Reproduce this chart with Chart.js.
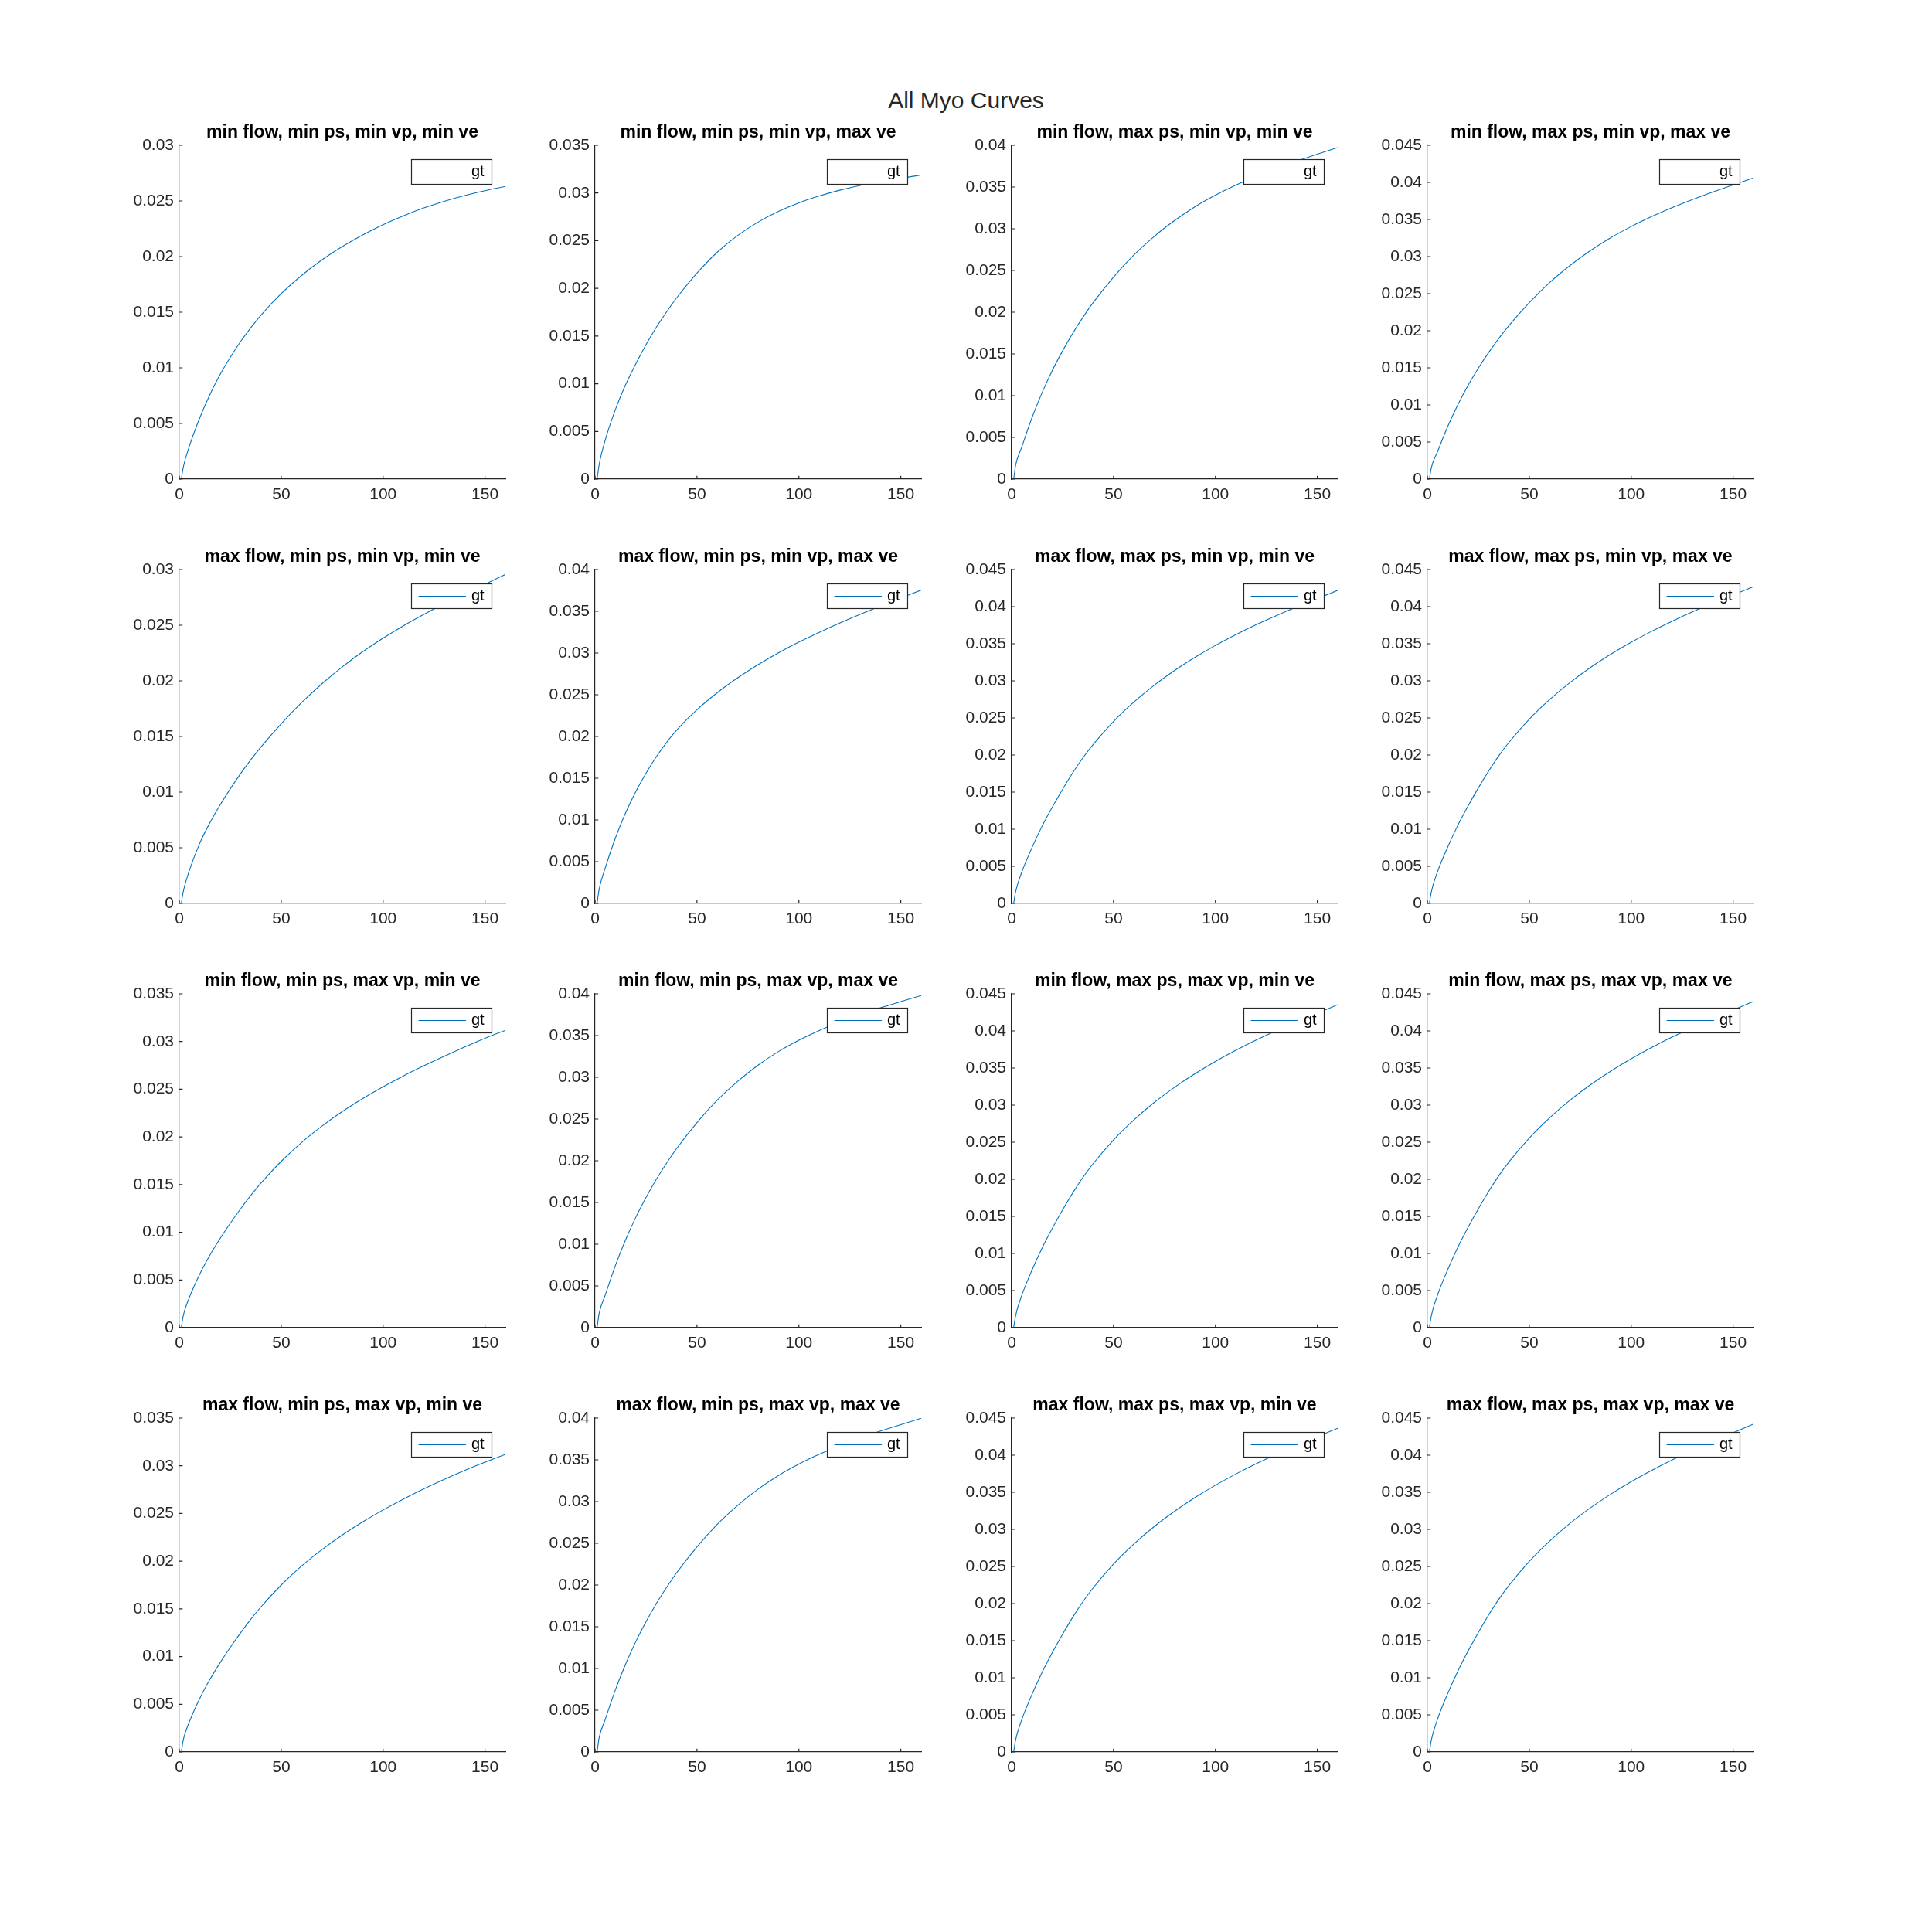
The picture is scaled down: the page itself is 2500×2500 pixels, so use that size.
<!DOCTYPE html>
<html>
<head>
<meta charset="utf-8">
<script src="https://cdn.jsdelivr.net/npm/chart.js@4.4.1/dist/chart.umd.min.js"></script>
<style>
html, body { margin: 0; padding: 0; background: #ffffff; }
body { width: 2500px; height: 2500px; position: relative; overflow: hidden; }
#suptitle { position: absolute; left: 0; top: 115px; width: 2500px; text-align: center;
  font: 30px/30px "Liberation Sans", Arial, Helvetica, sans-serif; color: #262626; white-space: nowrap; }
canvas { position: absolute; }
</style>
</head>
<body>
<div id="suptitle">All Myo Curves</div>
<script>
// ---------------- data ----------------
const timePoints = [1, 2, 5, 10, 15, 20, 25, 30, 35, 40, 50, 60, 70, 80, 90, 100, 110, 120, 130, 140, 150, 160];

const curve_r1c1 = [0, 0.0011, 0.00299, 0.00549, 0.00759, 0.00939, 0.01094, 0.01234, 0.01359, 0.01472, 0.01667, 0.0183, 0.0197, 0.0209, 0.02195, 0.02287, 0.02367, 0.02437, 0.02497, 0.02549, 0.02592, 0.0263];
const curve_r1c2 = [0, 0.0015, 0.0041, 0.0073, 0.0099, 0.0121, 0.0141, 0.0159, 0.0175, 0.0190, 0.0216, 0.0238, 0.02555, 0.02695, 0.02807, 0.02897, 0.02969, 0.03029, 0.03079, 0.03119, 0.03155, 0.03188];
const curve_r1c3 = [0, 0.0017, 0.00386, 0.00736, 0.01038, 0.01303, 0.01536, 0.01748, 0.01939, 0.02114, 0.02421, 0.02686, 0.02909, 0.03099, 0.03264, 0.03402, 0.03522, 0.03627, 0.03722, 0.0381, 0.03893, 0.03973];
const curve_r1c4 = [0, 0.0016, 0.0037, 0.0071, 0.01005, 0.01265, 0.01495, 0.01705, 0.01895, 0.0207, 0.0238, 0.0265, 0.0288, 0.0308, 0.03255, 0.03405, 0.03538, 0.03658, 0.03768, 0.0387, 0.03967, 0.0406];

const curve_r2c1 = [0, 0.0011, 0.00299, 0.00539, 0.00724, 0.00884, 0.01029, 0.01164, 0.01289, 0.01404, 0.01614, 0.01804, 0.01974, 0.02126, 0.02262, 0.02384, 0.02495, 0.02597, 0.02692, 0.02781, 0.02868, 0.02956];
const curve_r2c2 = [0, 0.0017, 0.00425, 0.00785, 0.01085, 0.0134, 0.0156, 0.01755, 0.01925, 0.02075, 0.0232, 0.02525, 0.02703, 0.02861, 0.03003, 0.03131, 0.03248, 0.03358, 0.03462, 0.03562, 0.03659, 0.03754];
const curve_r2c3 = [0, 0.00161, 0.00422, 0.00752, 0.01043, 0.01299, 0.01537, 0.0176, 0.01963, 0.02142, 0.02453, 0.02714, 0.02942, 0.03141, 0.03318, 0.03478, 0.03623, 0.03757, 0.03881, 0.03997, 0.04108, 0.0422];
const curve_r2c4 = [0, 0.00163, 0.00428, 0.00761, 0.01056, 0.01315, 0.01556, 0.01781, 0.01988, 0.02169, 0.02483, 0.02748, 0.02978, 0.0318, 0.03359, 0.03521, 0.03668, 0.03803, 0.03929, 0.04047, 0.04158, 0.0427];

const curve_r3c1 = [0, 0.0013, 0.00319, 0.00559, 0.00759, 0.00934, 0.01094, 0.01244, 0.01384, 0.01514, 0.01744, 0.01942, 0.02114, 0.02266, 0.02402, 0.02526, 0.0264, 0.02746, 0.02846, 0.02942, 0.03034, 0.03118];
const curve_r3c2 = [0, 0.0017, 0.0039, 0.00747, 0.01054, 0.01323, 0.0156, 0.01775, 0.01968, 0.02146, 0.02458, 0.02727, 0.02953, 0.03146, 0.03309, 0.03444, 0.0356, 0.03661, 0.03752, 0.03832, 0.03907, 0.0398];
const curve_r3c3 = [0, 0.00166, 0.00436, 0.00776, 0.01076, 0.01341, 0.01586, 0.01816, 0.02026, 0.02211, 0.02531, 0.02801, 0.03036, 0.03241, 0.03424, 0.03589, 0.03739, 0.03877, 0.04005, 0.04125, 0.04239, 0.04354];
const curve_r3c4 = [0, 0.00168, 0.0044, 0.00784, 0.01087, 0.01354, 0.01602, 0.01834, 0.02046, 0.02233, 0.02556, 0.02829, 0.03066, 0.03273, 0.03458, 0.03625, 0.03776, 0.03916, 0.04045, 0.04166, 0.04281, 0.04398];

const curve_r4c1 = [0, 0.0013, 0.00319, 0.00559, 0.00759, 0.00935, 0.01096, 0.01247, 0.01388, 0.01519, 0.0175, 0.01949, 0.02122, 0.02275, 0.02412, 0.02537, 0.02652, 0.02759, 0.02858, 0.02952, 0.03038, 0.0312];
const curve_r4c2 = [0, 0.0017, 0.0039, 0.00747, 0.01054, 0.01323, 0.0156, 0.01775, 0.01968, 0.02146, 0.02458, 0.02728, 0.02955, 0.03149, 0.03313, 0.03449, 0.03566, 0.03669, 0.03762, 0.03844, 0.03922, 0.03998];
const curve_r4c3 = [0, 0.00166, 0.00436, 0.00776, 0.01076, 0.01341, 0.01586, 0.01816, 0.02026, 0.02211, 0.02532, 0.02803, 0.03039, 0.03245, 0.03429, 0.03595, 0.03746, 0.03885, 0.04014, 0.04135, 0.0425, 0.04362];
const curve_r4c4 = [0, 0.00168, 0.00443, 0.00788, 0.01092, 0.01361, 0.0161, 0.01843, 0.02056, 0.02244, 0.02569, 0.02843, 0.03082, 0.0329, 0.03475, 0.03643, 0.03795, 0.03935, 0.04065, 0.04187, 0.04303, 0.0442];

const panelTitles = [
  "min flow, min ps, min vp, min ve", "min flow, min ps, min vp, max ve", "min flow, max ps, min vp, min ve", "min flow, max ps, min vp, max ve",
  "max flow, min ps, min vp, min ve", "max flow, min ps, min vp, max ve", "max flow, max ps, min vp, min ve", "max flow, max ps, min vp, max ve",
  "min flow, min ps, max vp, min ve", "min flow, min ps, max vp, max ve", "min flow, max ps, max vp, min ve", "min flow, max ps, max vp, max ve",
  "max flow, min ps, max vp, min ve", "max flow, min ps, max vp, max ve", "max flow, max ps, max vp, min ve", "max flow, max ps, max vp, max ve"
];

const xTickValues = [0, 50, 100, 150];
const yTicks030 = [0, 0.005, 0.01, 0.015, 0.02, 0.025, 0.03];
const yTicks035 = [0, 0.005, 0.01, 0.015, 0.02, 0.025, 0.03, 0.035];
const yTicks040 = [0, 0.005, 0.01, 0.015, 0.02, 0.025, 0.03, 0.035, 0.04];
const yTicks045 = [0, 0.005, 0.01, 0.015, 0.02, 0.025, 0.03, 0.035, 0.04, 0.045];

const panelCurves = [
  curve_r1c1, curve_r1c2, curve_r1c3, curve_r1c4,
  curve_r2c1, curve_r2c2, curve_r2c3, curve_r2c4,
  curve_r3c1, curve_r3c2, curve_r3c3, curve_r3c4,
  curve_r4c1, curve_r4c2, curve_r4c3, curve_r4c4
];
const panelYTicks = [
  yTicks030, yTicks035, yTicks040, yTicks045,
  yTicks030, yTicks040, yTicks045, yTicks045,
  yTicks035, yTicks040, yTicks045, yTicks045,
  yTicks035, yTicks040, yTicks045, yTicks045
];
const seriesLabel = "gt";

// ---------------- layout / style ----------------
const FONT = '"Liberation Sans", Arial, Helvetica, sans-serif';
const AXIS = '#262626';
const LINE_COLOR = '#0072BD';
const colLeft = [232, 770, 1309, 1847];
const rowTop = [188, 737, 1286, 1835];
const AREA_W = 422, AREA_H = 432;
const PAD_L = 110, PAD_T = 50, PAD_B = 50, PAD_R = 20;
const TICK_LEN = 4.3;

const inwardTicks = {
  id: 'inwardTicks',
  afterDatasetsDraw(chart) {
    const { ctx, chartArea: a, scales } = chart;
    const xs = scales.x, ys = scales.y;
    ctx.save();
    ctx.strokeStyle = AXIS;
    ctx.lineWidth = 1.2;
    ctx.beginPath();
    xs.ticks.forEach(t => {
      const px = xs.getPixelForValue(t.value);
      ctx.moveTo(px, a.bottom);
      ctx.lineTo(px, a.bottom - TICK_LEN);
    });
    ys.ticks.forEach(t => {
      const py = ys.getPixelForValue(t.value);
      ctx.moveTo(a.left, py);
      ctx.lineTo(a.left + TICK_LEN, py);
    });
    ctx.stroke();
    ctx.restore();
  }
};

const innerLegend = {
  id: 'innerLegend',
  afterDatasetsDraw(chart) {
    const { ctx, chartArea: a } = chart;
    const ds = chart.data.datasets[0];
    const w = 104, h = 32;
    const bx = Math.round(a.right - 18 - w), by = Math.round(a.top + 18);
    ctx.save();
    ctx.fillStyle = '#ffffff';
    ctx.fillRect(bx, by, w, h);
    ctx.strokeStyle = AXIS;
    ctx.lineWidth = 1.2;
    ctx.strokeRect(bx + 0.5, by + 0.5, w, h);
    ctx.strokeStyle = ds.borderColor;
    ctx.lineWidth = ds.borderWidth;
    ctx.beginPath();
    ctx.moveTo(bx + 9.5, by + h / 2 + 0.5);
    ctx.lineTo(bx + 71, by + h / 2 + 0.5);
    ctx.stroke();
    ctx.fillStyle = '#000000';
    ctx.font = '20px ' + FONT;
    ctx.textBaseline = 'middle';
    ctx.textAlign = 'left';
    ctx.fillText(ds.label, bx + 78, by + h / 2 + 0.5);
    ctx.restore();
  }
};

function fmtTick(v) {
  return String(parseFloat(Number(v).toFixed(4)));
}

for (let r = 0; r < 4; r++) {
  for (let c = 0; c < 4; c++) {
    const k = r * 4 + c;
    const cv = document.createElement('canvas');
    const W = PAD_L + AREA_W + PAD_R, H = PAD_T + AREA_H + PAD_B;
    cv.width = W; cv.height = H;
    cv.style.width = W + 'px'; cv.style.height = H + 'px';
    cv.style.left = (colLeft[c] - PAD_L) + 'px';
    cv.style.top = (rowTop[r] - PAD_T) + 'px';
    document.body.appendChild(cv);

    const yTicks = panelYTicks[k];
    const values = panelCurves[k];
    new Chart(cv, {
      type: 'line',
      data: {
        datasets: [{
          label: seriesLabel,
          data: timePoints.map((t, i) => ({ x: t, y: values[i] })),
          borderColor: LINE_COLOR,
          borderWidth: 1.1,
          pointRadius: 0,
          pointHoverRadius: 0,
          fill: false,
          cubicInterpolationMode: 'monotone'
        }]
      },
      options: {
        responsive: false,
        animation: false,
        devicePixelRatio: 1,
        events: [],
        layout: { padding: { left: 0, right: PAD_R, top: 22, bottom: 0 } },
        plugins: {
          legend: { display: false },
          tooltip: { enabled: false },
          title: {
            display: true,
            fullSize: false,
            text: panelTitles[k],
            color: '#000000',
            font: { family: FONT, size: 23, weight: 'bold', lineHeight: 1 },
            padding: { top: 0, bottom: 5 }
          }
        },
        scales: {
          x: {
            type: 'linear',
            min: 0, max: 160,
            grid: { display: false, drawTicks: false },
            border: { display: true, color: AXIS, width: 1.2 },
            ticks: {
              color: AXIS, padding: 7.5, maxRotation: 0, minRotation: 0, autoSkip: false,
              font: { family: FONT, size: 21, lineHeight: 1.2 },
              callback: v => fmtTick(v)
            },
            afterBuildTicks: s => { s.ticks = xTickValues.map(v => ({ value: v })); },
            afterFit: s => { s.height = PAD_B; }
          },
          y: {
            type: 'linear',
            min: 0, max: yTicks[yTicks.length - 1],
            grid: { display: false, drawTicks: false },
            border: { display: true, color: AXIS, width: 1.2 },
            ticks: {
              color: AXIS, padding: 7, autoSkip: false,
              font: { family: FONT, size: 21, lineHeight: 1.2 },
              callback: v => fmtTick(v)
            },
            afterBuildTicks: s => { s.ticks = yTicks.map(v => ({ value: v })); },
            afterFit: s => { s.width = PAD_L; }
          }
        }
      },
      plugins: [inwardTicks, innerLegend]
    });
  }
}
</script>
</body>
</html>
